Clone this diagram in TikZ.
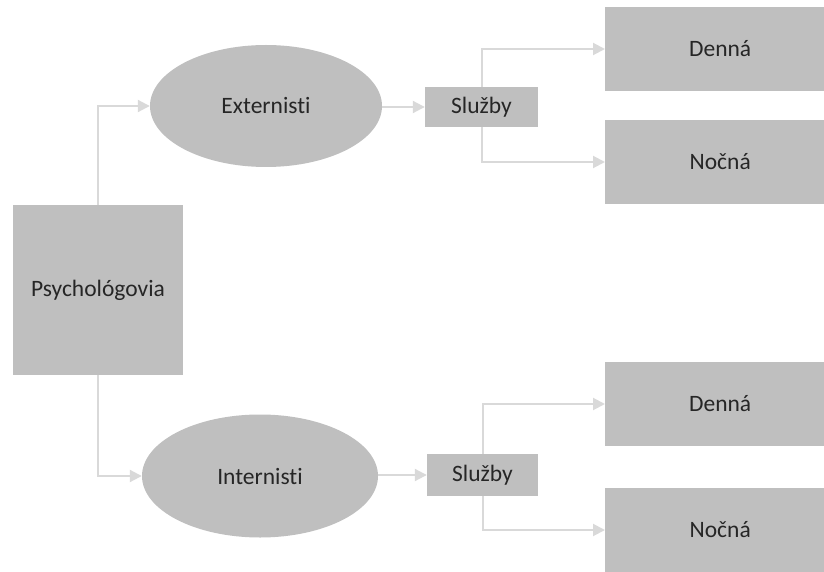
\documentclass[tikz,border=0pt]{standalone}
\usepackage{fontspec}
\setmainfont[Ligatures=NoCommon]{Carlito}
\usetikzlibrary{arrows.meta,shapes.geometric}
\definecolor{boxfill}{HTML}{BFBFBF}
\definecolor{linegray}{HTML}{D9D9D9}
\begin{document}
\begin{tikzpicture}[x=1pt,y=-1pt,
  box/.style={fill=boxfill,draw=none,inner sep=0pt,font=\fontsize{23.5}{28}\selectfont,text=black!85},
  oval/.style={ellipse,fill=boxfill,draw=none,inner sep=0pt,font=\fontsize{23.5}{28}\selectfont,text=black!85},
  conn/.style={draw=linegray,line width=2pt,-{Triangle[length=12pt,width=12pt]}}]
\useasboundingbox (0,0) rectangle (824,572);
\node[box,minimum width=170pt,minimum height=170pt] (psy) at (98,290) {Psychológovia};
\node[oval,minimum width=232pt,minimum height=122pt] (ext) at (266,106) {Externisti};
\node[oval,minimum width=236pt,minimum height=123pt] (int) at (260,476) {Internisti};
\node[box,minimum width=113pt,minimum height=40pt] (s1) at (481.5,107) {Služby};
\node[box,minimum width=111pt,minimum height=42pt] (s2) at (482.5,475) {Služby};
\node[box,minimum width=230pt,minimum height=84pt,anchor=west] (d1) at (605,49) {Denná};
\node[box,minimum width=230pt,minimum height=84pt,anchor=west] (n1) at (605,162) {Nočná};
\node[box,minimum width=230pt,minimum height=84pt,anchor=west] (d2) at (605,404) {Denná};
\node[box,minimum width=230pt,minimum height=84pt,anchor=west] (n2) at (605,530) {Nočná};
\draw[conn] (psy.north) |- (ext.west);
\draw[conn] (psy.south) |- (int.west);
\draw[conn] (ext.east |- s1.west) -- (s1.west);
\draw[conn] (int.east |- s2.west) -- (s2.west);
\draw[conn] (s1.north) |- (d1.west);
\draw[conn] (s1.south) |- (n1.west);
\draw[conn] (s2.north) |- (d2.west);
\draw[conn] (s2.south) |- (n2.west);
\end{tikzpicture}
\end{document}
